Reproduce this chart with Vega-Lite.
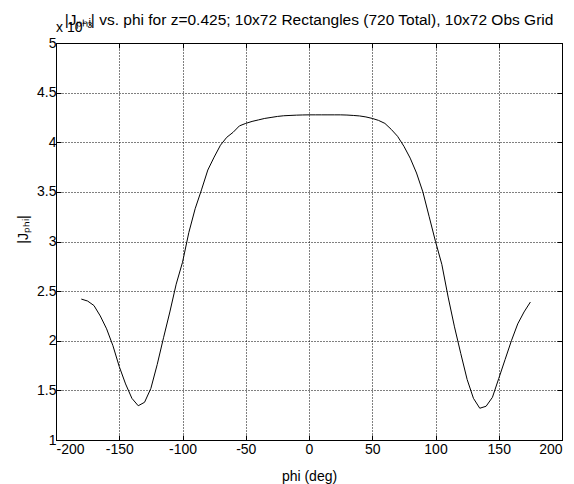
{
  "$schema": "https://vega.github.io/schema/vega-lite/v6.json",
  "width": 506,
  "height": 397,
  "autosize": {"type": "none"},
  "padding": {"left": 56, "top": 43, "right": 12, "bottom": 44},
  "background": "white",
  "config": {
    "view": {"stroke": "black", "strokeWidth": 1},
    "axis": {
      "labelFont": "Liberation Sans",
      "labelFontSize": 14,
      "labelColor": "black",
      "titleFont": "Liberation Sans",
      "titleFontSize": 14,
      "titleFontWeight": "normal",
      "titleColor": "black",
      "domainColor": "black",
      "domainWidth": 1,
      "tickColor": "black",
      "tickWidth": 1,
      "tickSize": -5,
      "gridColor": "black",
      "gridOpacity": 1,
      "gridWidth": 1,
      "gridDash": [1, 2]
    }
  },
  "data": {
    "values": [
      {"phi": -180, "J": 2.42}, {"phi": -175, "J": 2.4}, {"phi": -170, "J": 2.355}, {"phi": -165, "J": 2.25},
      {"phi": -160, "J": 2.12}, {"phi": -155, "J": 1.95}, {"phi": -150, "J": 1.74}, {"phi": -145, "J": 1.565},
      {"phi": -140, "J": 1.42}, {"phi": -135, "J": 1.345}, {"phi": -130, "J": 1.38}, {"phi": -125, "J": 1.52},
      {"phi": -120, "J": 1.76}, {"phi": -115, "J": 2.03}, {"phi": -110, "J": 2.29}, {"phi": -105, "J": 2.57},
      {"phi": -100, "J": 2.79}, {"phi": -95, "J": 3.09}, {"phi": -90, "J": 3.33}, {"phi": -85, "J": 3.52},
      {"phi": -80, "J": 3.72}, {"phi": -75, "J": 3.85}, {"phi": -70, "J": 3.97}, {"phi": -65, "J": 4.05},
      {"phi": -60, "J": 4.1}, {"phi": -55, "J": 4.165}, {"phi": -50, "J": 4.19}, {"phi": -45, "J": 4.21},
      {"phi": -40, "J": 4.225}, {"phi": -35, "J": 4.24}, {"phi": -30, "J": 4.25}, {"phi": -25, "J": 4.26},
      {"phi": -20, "J": 4.267}, {"phi": -15, "J": 4.27}, {"phi": -10, "J": 4.273}, {"phi": -5, "J": 4.275},
      {"phi": 0, "J": 4.276}, {"phi": 5, "J": 4.276}, {"phi": 10, "J": 4.276}, {"phi": 15, "J": 4.276},
      {"phi": 20, "J": 4.276}, {"phi": 25, "J": 4.276}, {"phi": 30, "J": 4.274}, {"phi": 35, "J": 4.27},
      {"phi": 40, "J": 4.265}, {"phi": 45, "J": 4.255}, {"phi": 50, "J": 4.24}, {"phi": 55, "J": 4.22},
      {"phi": 60, "J": 4.19}, {"phi": 65, "J": 4.13}, {"phi": 70, "J": 4.06}, {"phi": 75, "J": 3.96},
      {"phi": 80, "J": 3.84}, {"phi": 85, "J": 3.69}, {"phi": 90, "J": 3.5}, {"phi": 95, "J": 3.25},
      {"phi": 100, "J": 3.0}, {"phi": 105, "J": 2.77}, {"phi": 110, "J": 2.44}, {"phi": 115, "J": 2.14},
      {"phi": 120, "J": 1.87}, {"phi": 125, "J": 1.61}, {"phi": 130, "J": 1.42}, {"phi": 135, "J": 1.32},
      {"phi": 140, "J": 1.34}, {"phi": 145, "J": 1.43}, {"phi": 150, "J": 1.62}, {"phi": 155, "J": 1.81},
      {"phi": 160, "J": 2.0}, {"phi": 165, "J": 2.17}, {"phi": 170, "J": 2.29}, {"phi": 175, "J": 2.39}
    ]
  },
  "layer": [
    {
      "mark": {"type": "line", "color": "black", "strokeWidth": 1, "interpolate": "linear"},
      "encoding": {
        "x": {
          "field": "phi", "type": "quantitative",
          "scale": {"domain": [-200, 200], "nice": false, "zero": false},
          "axis": {
            "orient": "bottom",
            "values": [-200, -150, -100, -50, 0, 50, 100, 150, 200],
            "labelExpr": "'' + datum.value",
            "labelPadding": 7,
            "grid": true,
            "title": "phi (deg)",
            "titleX": 253,
            "titleY": 40,
            "titleAnchor": null,
            "titleAlign": "center",
            "titleBaseline": "alphabetic"
          }
        },
        "y": {
          "field": "J", "type": "quantitative",
          "scale": {"domain": [1, 5], "nice": false, "zero": false},
          "axis": {
            "orient": "left",
            "values": [1, 1.5, 2, 2.5, 3, 3.5, 4, 4.5, 5],
            "format": "~g",
            "labelPadding": 5,
            "grid": true,
            "title": "|Jₚₕᵢ|",
            "titleAngle": -90,
            "titleX": -29,
            "titleY": 186,
            "titleAlign": "center",
            "titleBaseline": "alphabetic"
          }
        }
      }
    },
    {
      "mark": {"type": "line", "opacity": 0},
      "encoding": {
        "x": {
          "field": "phi", "type": "quantitative",
          "axis": {
            "orient": "top",
            "values": [-200, -150, -100, -50, 0, 50, 100, 150, 200],
            "labels": false,
            "grid": false,
            "title": null
          }
        },
        "y": {
          "field": "J", "type": "quantitative",
          "axis": {
            "orient": "right",
            "values": [1, 1.5, 2, 2.5, 3, 3.5, 4, 4.5, 5],
            "labels": false,
            "grid": false,
            "title": null
          }
        }
      }
    },
    {
      "data": {"values": [{"label": "x 10⁻³"}]},
      "mark": {"type": "text", "align": "left", "baseline": "alphabetic", "dy": -11, "font": "Liberation Sans", "fontSize": 14, "color": "black"},
      "encoding": {
        "x": {"datum": -200, "type": "quantitative", "axis": null},
        "y": {"datum": 5, "type": "quantitative", "axis": null},
        "text": {"field": "label"}
      }
    },
    {
      "data": {"values": [{"label": "|Jₚₕᵢ| vs. phi for z=0.425; 10x72 Rectangles (720 Total), 10x72 Obs Grid"}]},
      "mark": {"type": "text", "align": "center", "baseline": "alphabetic", "dy": -18, "font": "Liberation Sans", "fontSize": 15.5, "color": "black"},
      "encoding": {
        "x": {"datum": 0, "type": "quantitative", "axis": null},
        "y": {"datum": 5, "type": "quantitative", "axis": null},
        "text": {"field": "label"}
      }
    }
  ],
  "resolve": {"axis": {"x": "independent", "y": "independent"}}
}
